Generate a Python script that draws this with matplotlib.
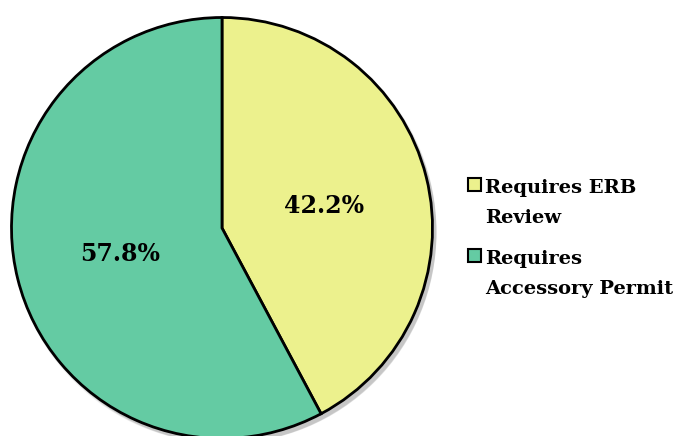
import matplotlib.pyplot as plt
from matplotlib.patches import Circle, Rectangle

# data
labels = [["Requires ERB", "Review"], ["Requires", "Accessory Permit"]]
shares = [42.2, 57.8]
colors = ["#ECF18D", "#64CBA3"]

W, H = 681, 436
fig = plt.figure(figsize=(W / 100, H / 100), dpi=100)
ax = fig.add_axes([0, 0, 1, 1])

cx, cy = 222, 228  # pie centre in pixels
scale = 210.5

# soft drop shadow behind the whole pie
for i, a in enumerate([0.06, 0.08, 0.10]):
    ax.add_patch(Circle(((2 + i) / scale, -(3 + i) / scale), 1.0 + (2 - i) / scale,
                        color="black", alpha=a, lw=0, zorder=0))

wedges, _ = ax.pie(shares, colors=colors, startangle=90, counterclock=False,
                   radius=1.0, center=(0, 0), frame=True,
                   wedgeprops=dict(edgecolor="black", linewidth=2, zorder=2))
ax.set_xlim(-cx / scale, (W - cx) / scale)
ax.set_ylim(-(H - cy) / scale, cy / scale)
ax.set_aspect("auto")
ax.axis("off")

font = "DejaVu Serif"
ax.text((324 - cx) / scale, (cy - 206) / scale, f"{shares[0]}%", ha="center", va="center",
        fontsize=17, fontweight="bold", family=font, zorder=3)
ax.text((120 - cx) / scale, (cy - 254) / scale, f"{shares[1]}%", ha="center", va="center",
        fontsize=17, fontweight="bold", family=font, zorder=3)

# legend, drawn by hand so the swatch sits on the first line
def fy(y):
    return 1 - y / H

for k, (lines, col) in enumerate(zip(labels, colors)):
    top = 178 + k * 71
    fig.add_artist(Rectangle((468 / W, fy(top + 13)), 13 / W, 13 / H, transform=fig.transFigure,
                             facecolor=col, edgecolor="black", linewidth=1.5))
    for j, line in enumerate(lines):
        fig.text(485 / W, fy(top + 15 + j * 30), line, ha="left", va="baseline",
                 fontsize=14, fontweight="bold", family=font)

fig.savefig("out.png", dpi=100)
